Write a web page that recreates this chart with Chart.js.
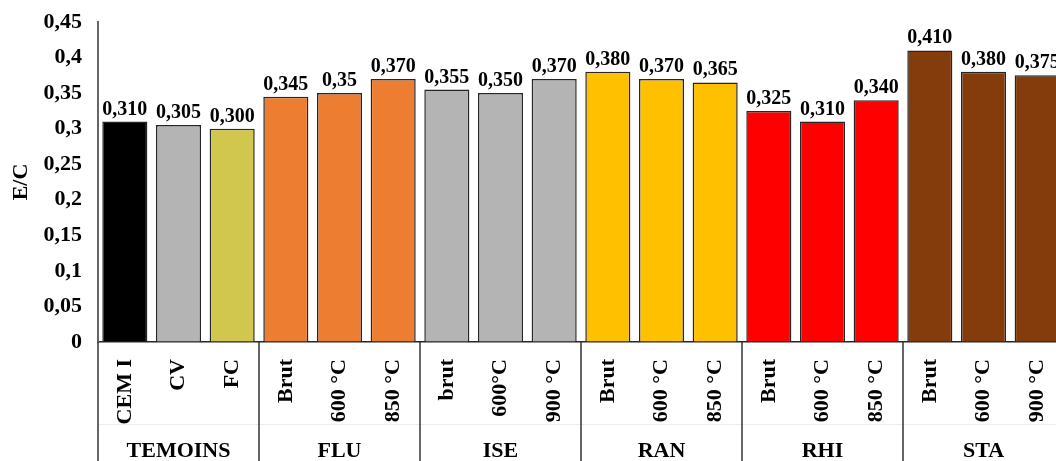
<!DOCTYPE html>
<html>
<head>
<meta charset="utf-8">
<script src="https://cdn.jsdelivr.net/npm/chart.js@4/dist/chart.umd.min.js"></script>
<style>
  html, body { margin: 0; padding: 0; background: #fff; overflow: hidden; }
  #wrap { width: 1056px; height: 461px; overflow: hidden; }
  #box { width: 1066px; height: 461px; }
</style>
</head>
<body>
<div id="wrap"><div id="box"><canvas id="myChart"></canvas></div></div>
<script>
// data
var categories = ['CEM I', 'CV', 'FC', 'Brut', '600 °C', '850 °C', 'brut', '600°C', '900 °C',
                  'Brut', '600 °C', '850 °C', 'Brut', '600 °C', '850 °C', 'Brut', '600 °C', '900 °C'];
var groups = ['TEMOINS', 'FLU', 'ISE', 'RAN', 'RHI', 'STA'];
var ecValues = [0.310, 0.305, 0.300, 0.345, 0.350, 0.370, 0.355, 0.350, 0.370,
                0.380, 0.370, 0.365, 0.325, 0.310, 0.340, 0.410, 0.380, 0.375];
var valueLabels = ['0,310', '0,305', '0,300', '0,345', '0,35', '0,370', '0,355', '0,350', '0,370',
                   '0,380', '0,370', '0,365', '0,325', '0,310', '0,340', '0,410', '0,380', '0,375'];
var yTickLabels = ['0', '0,05', '0,1', '0,15', '0,2', '0,25', '0,3', '0,35', '0,4', '0,45'];
var barColors = ['#000000', '#b4b4b4', '#d1c64e',
                 '#ed7d31', '#ed7d31', '#ed7d31',
                 '#b4b4b4', '#b4b4b4', '#b4b4b4',
                 '#ffc000', '#ffc000', '#ffc000',
                 '#ff0000', '#ff0000', '#ff0000',
                 '#843c0c', '#843c0c', '#843c0c'];

var serif = "'Liberation Serif', 'Times New Roman', serif";

// value labels above bars
var barLabels = {
    id: 'barLabels',
    afterDatasetsDraw: function(chart) {
        var ctx = chart.ctx;
        var meta = chart.getDatasetMeta(0);
        ctx.save();
        ctx.font = 'bold 20px ' + serif;
        ctx.fillStyle = '#000';
        ctx.textAlign = 'center';
        ctx.textBaseline = 'alphabetic';
        meta.data.forEach(function(bar, i) {
            ctx.fillText(valueLabels[i], bar.x, bar.y - 7);
        });
        ctx.restore();
    }
};

// group separators + group names under the axis
var groupRow = {
    id: 'groupRow',
    afterDraw: function(chart) {
        var ctx = chart.ctx;
        var x = chart.scales.x;
        var bottom = chart.chartArea.bottom;
        var h = chart.height;
        ctx.save();
        ctx.strokeStyle = '#ececec';
        ctx.lineWidth = 1;
        ctx.beginPath();
        ctx.moveTo(chart.chartArea.left, 424.5);
        ctx.lineTo(chart.chartArea.right, 424.5);
        ctx.stroke();

        ctx.strokeStyle = '#333';
        ctx.lineWidth = 1.5;
        for (var g = 0; g <= groups.length; g++) {
            var px = Math.round(x.getPixelForValue(g * 3 - 0.5));
            ctx.beginPath();
            ctx.moveTo(px, bottom);
            ctx.lineTo(px, h);
            ctx.stroke();
        }
        ctx.font = 'bold 22px ' + serif;
        ctx.fillStyle = '#000';
        ctx.textAlign = 'center';
        ctx.textBaseline = 'alphabetic';
        groups.forEach(function(name, g) {
            ctx.fillText(name, x.getPixelForValue(g * 3 + 1), 457);
        });
        ctx.restore();
    }
};

var ctx = document.getElementById('myChart').getContext('2d');
var chart = new Chart(ctx, {
    type: 'bar',
    data: {
        labels: categories,
        datasets: [{
            data: ecValues,
            backgroundColor: barColors,
            borderColor: '#262626',
            borderWidth: 1.5,
            categoryPercentage: 1,
            barPercentage: 0.84
        }]
    },
    options: {
        responsive: true,
        maintainAspectRatio: false,
        animation: false,
        layout: { padding: { top: 22, right: 2, left: 0, bottom: 0 } },
        plugins: {
            legend: { display: false },
            tooltip: { enabled: false }
        },
        scales: {
            x: {
                afterFit: function(s) {
                    s.height = 119;
                    s.paddingLeft = 0;
                    s.paddingRight = 0;
                },
                grid: { display: true, drawOnChartArea: false, drawTicks: false },
                border: { display: true, color: '#262626', width: 1.5 },
                ticks: {
                    color: '#000',
                    font: { family: serif, size: 22, weight: 'bold' },
                    minRotation: 90,
                    maxRotation: 90,
                    autoSkip: false,
                    padding: 17
                }
            },
            y: {
                min: 0,
                max: 0.45,
                afterFit: function(s) {
                    s.width = 98;
                    s.paddingTop = 0;
                    s.paddingBottom = 0;
                },
                grid: { display: true, drawOnChartArea: false, drawTicks: false },
                border: { display: true, color: '#666', width: 2 },
                ticks: {
                    stepSize: 0.05,
                    color: '#000',
                    padding: 16,
                    font: { family: serif, size: 22, weight: 'bold' },
                    callback: function(v, i) { return yTickLabels[i]; }
                },
                title: {
                    display: true,
                    text: 'E/C',
                    color: '#000',
                    padding: { top: 8, bottom: 0 },
                    font: { family: serif, size: 22, weight: 'bold' }
                }
            }
        }
    },
    plugins: [barLabels, groupRow]
});
</script>
</body>
</html>
